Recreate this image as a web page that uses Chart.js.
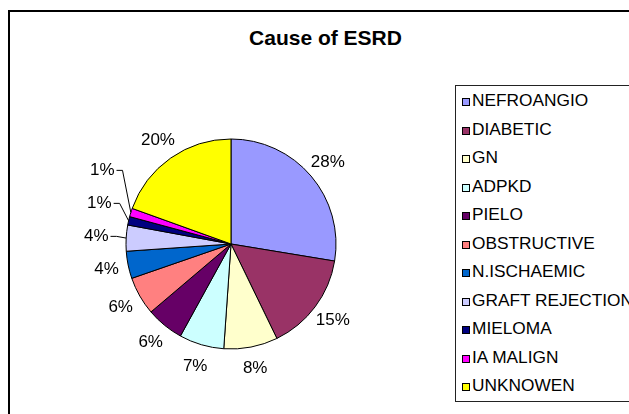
<!DOCTYPE html>
<html>
<head>
<meta charset="utf-8">
<script src="https://cdn.jsdelivr.net/npm/chart.js@4.4.0/dist/chart.umd.min.js"></script>
<style>
 body{margin:0;width:629px;height:414px;overflow:hidden;background:#fff;font-family:"Liberation Sans",Arial,sans-serif;}
 #frame{position:absolute;left:8px;top:10px;width:700px;height:500px;border:2px solid #000;}
 #title{position:absolute;left:0;top:27px;width:651px;text-align:center;font-size:21px;line-height:21px;font-weight:bold;color:#000;}
 #legend{position:absolute;left:455px;top:85px;width:220px;height:315px;border:1px solid #222;padding:0 0 0 6px;}
 #legend div{font-size:17.3px;line-height:28.5px;height:28.5px;white-space:nowrap;color:#000;}
 #legend span{display:inline-block;width:6px;height:6px;border:1px solid #000;margin-right:2px;}
 #pie{position:absolute;left:0;top:0;}
</style>
</head>
<body>
<div id="frame"></div>
<div id="title">Cause of ESRD</div>
<div id="legend"></div>
<canvas id="pie" width="629" height="414"></canvas>
<script>
/* ---------- DATA ---------- */
let causes=["NEFROANGIO","DIABETIC","GN","ADPKD","PIELO","OBSTRUCTIVE","N.ISCHAEMIC","GRAFT REJECTION","MIELOMA","IA MALIGN","UNKNOWEN"];
let shares=[27.6,15.2,8.3,6.9,5.8,5.9,4.2,4.0,1.3,1.3,19.5];
let colours=["#9999FF","#993366","#FFFFCC","#CCFFFF","#660066","#FF8080","#0066CC","#CCCCFF","#000080","#FF00FF","#FFFF00"];

/* ---------- LEGEND ---------- */
causes.forEach((c,i)=>{
 legend.innerHTML+=`<div><span style="background:${colours[i]}"></span>${c}</div>`;
});

/* ---------- PERCENT LABELS ---------- */
let pctLabels={
 id:"pctLabels",
 afterDatasetsDraw(chart){
  let ctx=chart.ctx, arcs=chart.getDatasetMeta(0).data;
  let total=shares.reduce((a,b)=>a+b,0);
  ctx.save();
  ctx.font='17px "Liberation Sans", Arial, sans-serif';
  ctx.fillStyle="#000";ctx.strokeStyle="#000";ctx.lineWidth=1;
  ctx.textAlign="center";ctx.textBaseline="middle";
  let placed=[];
  arcs.forEach((a,i)=>{
   let p=a.getProps(["x","y","startAngle","endAngle","outerRadius"],true);
   let mid=(p.startAngle+p.endAngle)/2;
   let small=shares[i]/total*100<4.1; // thin slices get a leader line
   let d=p.outerRadius+(small?30:22);
   let txt=Math.round(shares[i]/total*100)+"%";
   let w=ctx.measureText(txt).width;
   let lx=p.x+Math.cos(mid)*d, ly=p.y+Math.sin(mid)*d;
   // push up labels that collide on the left side
   if(Math.cos(mid)<0){
    placed.forEach(q=>{
     if(Math.abs(q.x-lx)<(q.w+w)/2+2 && q.y-ly<33) ly=q.y-33;
    });
   }
   placed.push({x:lx,y:ly,w:w});
   if(small){
    let ex=p.x+Math.cos(mid)*p.outerRadius, ey=p.y+Math.sin(mid)*p.outerRadius;
    ctx.beginPath();
    ctx.moveTo(lx+w/2+2,ly);ctx.lineTo(lx+w/2+8,ly);ctx.lineTo(ex,ey);
    ctx.stroke();
   }
   ctx.fillText(txt,lx,ly);
  });
  ctx.restore();
 }
};

/* ---------- PIE ---------- */
new Chart(pie,{
 type:"pie",
 data:{labels:causes,datasets:[{data:shares,backgroundColor:colours,borderColor:"#000",borderWidth:1}]},
 options:{
  responsive:false,animation:false,devicePixelRatio:1,
  radius:105,
  layout:{padding:{left:116,right:283,top:129,bottom:55}},
  plugins:{legend:{display:false},tooltip:{enabled:false},title:{display:false}}
 },
 plugins:[pctLabels]
});
</script>
</body>
</html>
